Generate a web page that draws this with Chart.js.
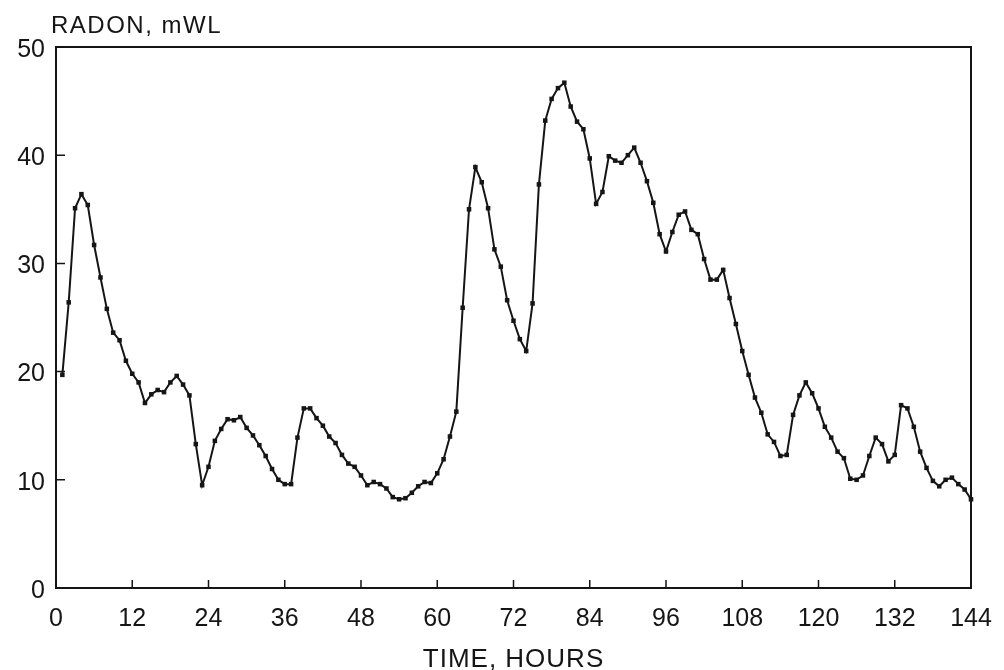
<!DOCTYPE html>
<html><head><meta charset="utf-8">
<script src="https://cdn.jsdelivr.net/npm/chart.js@4.4.1/dist/chart.umd.min.js"></script>
<style>html,body{margin:0;padding:0;background:#fff;} #wrap{width:1004px;height:670px;position:relative;}</style>
</head><body><div id="wrap"><canvas id="c"></canvas></div>
<script>
const HOURS = [
  1,2,3,4,5,6,7,8,9,10,11,12,
  13,14,15,16,17,18,19,20,21,22,23,24,
  25,26,27,28,29,30,31,32,33,34,35,36,
  37,38,39,40,41,42,43,44,45,46,47,48,
  49,50,51,52,53,54,55,56,57,58,59,60,
  61,62,63,64,65,66,67,68,69,70,71,72,
  73,74,75,76,77,78,79,80,81,82,83,84,
  85,86,87,88,89,90,91,92,93,94,95,96,
  97,98,99,100,101,102,103,104,105,106,107,108,
  109,110,111,112,113,114,115,116,117,118,119,120,
  121,122,123,124,125,126,127,128,129,130,131,132,
  133,134,135,136,137,138,139,140,141,142,143,144
];
const RADON = [
  19.7,26.4,35.1,36.4,35.4,31.7,28.7,25.8,23.6,22.9,21.0,19.8,
  19.0,17.1,17.9,18.3,18.1,19.0,19.6,18.8,17.8,13.3,9.5,11.2,
  13.6,14.7,15.6,15.5,15.8,14.8,14.1,13.2,12.2,11.0,10.0,9.6,
  9.6,13.9,16.6,16.6,15.7,15.0,14.0,13.4,12.3,11.5,11.2,10.4,
  9.5,9.8,9.6,9.2,8.4,8.2,8.3,8.8,9.4,9.8,9.7,10.6,
  11.9,14.0,16.3,25.9,35.0,38.9,37.5,35.1,31.3,29.7,26.6,24.7,
  23.0,21.9,26.3,37.3,43.2,45.2,46.2,46.7,44.5,43.1,42.4,39.7,
  35.5,36.6,39.9,39.5,39.3,40.0,40.7,39.3,37.6,35.6,32.7,31.1,
  32.9,34.5,34.8,33.1,32.7,30.4,28.5,28.5,29.4,26.8,24.4,21.9,
  19.7,17.6,16.2,14.2,13.5,12.2,12.3,16.0,17.8,19.0,18.0,16.6,
  14.9,13.9,12.6,12.0,10.1,10.0,10.4,12.2,13.9,13.3,11.7,12.3,
  16.9,16.6,14.9,12.6,11.1,9.9,9.4,10.0,10.2,9.6,9.1,8.2
];
const X_TICKS = [0,12,24,36,48,60,72,84,96,108,120,132,144];
const Y_TICKS = [0,10,20,30,40,50];
const Y_TITLE = 'RADON, mWL';
const X_TITLE = 'TIME, HOURS';

const INK = '#151515';
const FONT = "'Liberation Sans', Arial, Helvetica, sans-serif";

const framePlugin = {
  id: 'frame',
  afterDraw(chart) {
    const {ctx, chartArea: a, scales: {x, y}} = chart;
    ctx.save();
    ctx.strokeStyle = INK;
    ctx.lineWidth = 2;
    ctx.strokeRect(a.left, a.top, a.right - a.left, a.bottom - a.top);
    ctx.lineWidth = 1.5;
    ctx.beginPath();
    X_TICKS.forEach(v => { const px = x.getPixelForValue(v); ctx.moveTo(px, a.bottom); ctx.lineTo(px, a.bottom - 8); });
    Y_TICKS.forEach(v => { const py = y.getPixelForValue(v); ctx.moveTo(a.left, py); ctx.lineTo(a.left + 9, py); });
    ctx.stroke();
    ctx.fillStyle = INK;
    ctx.font = '24px ' + FONT;
    ctx.letterSpacing = '1.5px';
    ctx.textAlign = 'left';
    ctx.textBaseline = 'alphabetic';
    ctx.fillText(Y_TITLE, a.left - 5, a.top - 14);
    ctx.font = '26px ' + FONT;
    ctx.letterSpacing = '1px';
    ctx.textAlign = 'center';
    ctx.fillText(X_TITLE, (a.left + a.right) / 2, 667);
    ctx.restore();
  }
};

new Chart(document.getElementById('c'), {
  type: 'line',
  data: {
    datasets: [{
      data: HOURS.map((h, i) => ({x: h, y: RADON[i]})),
      borderColor: INK,
      borderWidth: 2,
      pointStyle: 'rect',
      pointRadius: 3.2,
      pointBackgroundColor: INK,
      pointBorderWidth: 0,
      tension: 0,
      clip: false
    }]
  },
  options: {
    responsive: true,
    maintainAspectRatio: false,
    animation: false,
    layout: {padding: {top: 47, right: 33, left: 0, bottom: 0}},
    plugins: {legend: {display: false}, tooltip: {enabled: false}},
    scales: {
      x: {
        type: 'linear', min: 0, max: 144,
        afterBuildTicks: s => { s.ticks = X_TICKS.map(v => ({value: v})); },
        afterFit: s => { s.height = 82; s.paddingLeft = 0; s.paddingRight = 0; },
        grid: {display: false, drawTicks: false},
        border: {display: false},
        ticks: {color: INK, font: {family: FONT, size: 25}, padding: 16, maxRotation: 0, autoSkip: false}
      },
      y: {
        type: 'linear', min: 0, max: 50,
        afterBuildTicks: s => { s.ticks = Y_TICKS.map(v => ({value: v})); },
        afterFit: s => { s.width = 56; s.paddingTop = 0; s.paddingBottom = 0; },
        grid: {display: false, drawTicks: false},
        border: {display: false},
        ticks: {color: INK, font: {family: FONT, size: 25}, padding: 11, labelOffset: 3, autoSkip: false}
      }
    }
  },
  plugins: [framePlugin]
});
</script>
</body></html>
